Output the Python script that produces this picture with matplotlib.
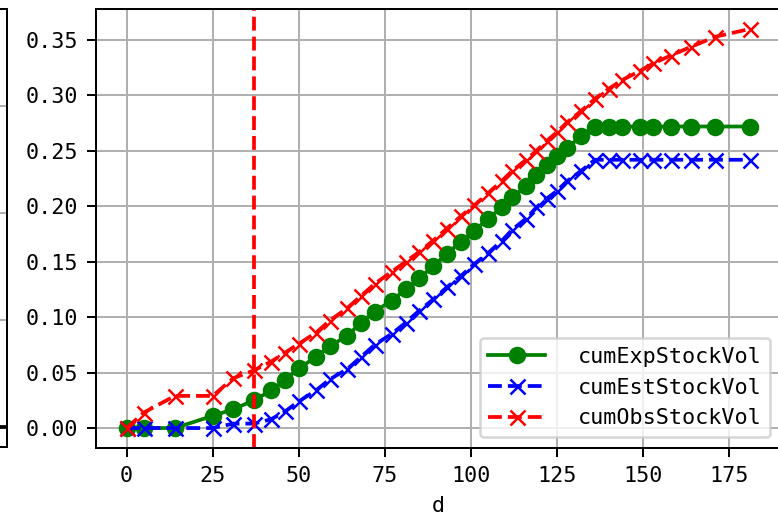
import matplotlib
matplotlib.use("Agg")
import matplotlib.pyplot as plt

plt.rcParams['font.family'] = ['DejaVu Sans Mono']
plt.rcParams['font.size'] = 8.7

# days
d = [0, 5, 14, 25, 31, 37, 42, 46, 50, 55, 59, 64, 68, 72, 77, 81, 85, 89, 93, 97,
     101, 105, 109, 112, 116, 119, 122, 125, 128, 132, 136, 140, 144, 149, 153,
     158, 164, 171, 181]

cumExpStockVol = [0, 0, 0, 0.011, 0.017, 0.025, 0.034, 0.043, 0.054, 0.064, 0.074,
                  0.083, 0.095, 0.105, 0.115, 0.125, 0.135, 0.146, 0.157, 0.168,
                  0.178, 0.189, 0.199, 0.208, 0.218, 0.228, 0.237, 0.245, 0.253,
                  0.263, 0.272, 0.272, 0.272, 0.272, 0.272, 0.272, 0.272, 0.272, 0.272]

cumEstStockVol = [0, 0, 0, 0, 0.004, 0.004, 0.008, 0.015, 0.024, 0.034, 0.044,
                  0.053, 0.064, 0.075, 0.085, 0.095, 0.106, 0.116, 0.127, 0.137,
                  0.148, 0.158, 0.169, 0.179, 0.189, 0.199, 0.207, 0.214, 0.223,
                  0.232, 0.242, 0.242, 0.242, 0.242, 0.242, 0.242, 0.242, 0.242, 0.242]

cumObsStockVol = [0, 0.014, 0.029, 0.029, 0.045, 0.052, 0.060, 0.068, 0.076, 0.086,
                  0.097, 0.108, 0.119, 0.130, 0.141, 0.150, 0.159, 0.169, 0.180,
                  0.191, 0.201, 0.212, 0.223, 0.232, 0.242, 0.250, 0.259, 0.267,
                  0.276, 0.286, 0.297, 0.306, 0.314, 0.322, 0.329, 0.336, 0.344,
                  0.353, 0.360]

cutoff_day = 37

# neighbouring panel, only its right edge shows
left_x = [0, 1]
left_y = [0, 0]

W, H = 778, 517
fig = plt.figure(figsize=(W / 180, H / 180), dpi=180)

# left (cropped) panel
ax0 = fig.add_axes([-0.5, (517 - 447) / H, 0.5 + 7.3 / W, (447 - 8.5) / H])
ax0.plot(left_x, left_y, color='k')
ax0.set_xlim(-1, 1.01)
ax0.set_ylim(-0.187, 3.91)
ax0.set_yticks([0, 1, 2, 3])
ax0.set_xticks([])
ax0.tick_params(labelleft=False)
ax0.grid(True, axis='y')

# main panel, runs a little past the right edge
ax = fig.add_axes([95.5 / W, (517 - 448) / H, (781 - 95.5) / W, (448 - 9) / H])
ax.plot(d, cumExpStockVol, 'g-o', label='cumExpStockVol')
ax.plot(d, cumEstStockVol, 'b--x', label='cumEstStockVol')
ax.plot(d, cumObsStockVol, 'r--x', label='cumObsStockVol')
ax.axvline(cutoff_day, color='r', linestyle='--')
ax.set_xlabel('d')
ax.set_xticks([0, 25, 50, 75, 100, 125, 150, 175])
ax.yaxis.set_major_formatter(matplotlib.ticker.FormatStrFormatter('%.2f'))
ax.grid(True)
ax.legend(loc='lower right', handlelength=2.6, handletextpad=1.5)

fig.savefig('out.png', dpi=180)
